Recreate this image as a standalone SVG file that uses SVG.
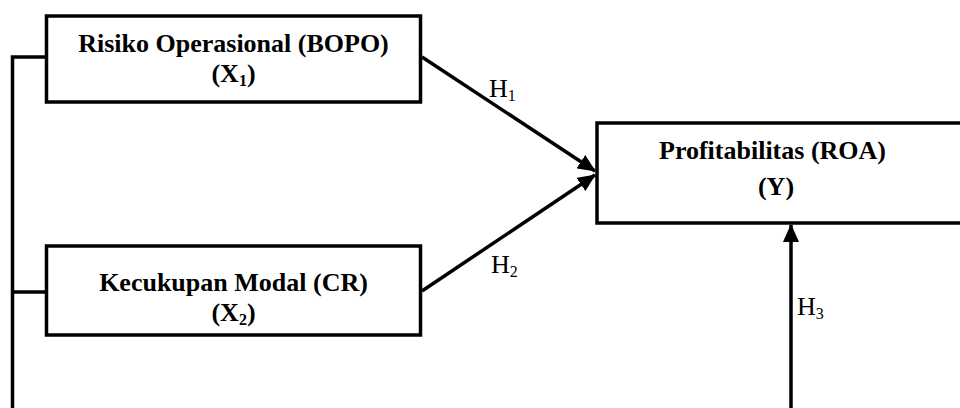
<svg xmlns="http://www.w3.org/2000/svg" width="960" height="408" viewBox="0 0 960 408">
<style>
.box{fill:#fff;stroke:#000;stroke-width:3.5}
.ln{fill:none;stroke:#000;stroke-width:3.5}
.t{font-family:"Liberation Serif","Times New Roman",serif;font-weight:bold;font-size:26px;fill:#000;text-anchor:middle}
.h{font-family:"Liberation Serif","Times New Roman",serif;font-size:26px;fill:#000}
</style>
<defs>
<marker id="ah" markerUnits="userSpaceOnUse" markerWidth="18" markerHeight="16" refX="17" refY="8" orient="auto">
<path d="M0,0 L18,8 L0,16 Z" fill="#000"/>
</marker>
</defs>
<g id="connectors">
<polyline class="ln" points="46,57 12.5,57 12.5,410"/>
<line class="ln" x1="12.5" y1="292" x2="46" y2="292"/>
<line class="ln" x1="422" y1="57" x2="595" y2="171" marker-end="url(#ah)"/>
<line class="ln" x1="422" y1="291" x2="595" y2="175" marker-end="url(#ah)"/>
<line class="ln" x1="791" y1="410" x2="791" y2="225" marker-end="url(#ah)"/>
<text class="h" x="489" y="97">H<tspan font-size="16" dy="4">1</tspan></text>
<text class="h" x="491" y="273">H<tspan font-size="16" dy="4">2</tspan></text>
<text class="h" x="797" y="315">H<tspan font-size="16" dy="4">3</tspan></text>
</g>
<g id="x1">
<rect class="box" x="46.5" y="16" width="374" height="86"/>
<text class="t" x="233.5" y="52">Risiko Operasional (BOPO)</text>
<text class="t" x="233.5" y="82">(X<tspan font-size="16" dy="4">1</tspan><tspan dy="-4">)</tspan></text>
</g>
<g id="x2">
<rect class="box" x="46.5" y="246" width="374" height="89"/>
<text class="t" x="233.5" y="291">Kecukupan Modal (CR)</text>
<text class="t" x="233.5" y="321">(X<tspan font-size="16" dy="4">2</tspan><tspan dy="-4">)</tspan></text>
</g>
<g id="y">
<rect class="box" x="597" y="123" width="370" height="100"/>
<text class="t" x="772.5" y="159">Profitabilitas (ROA)</text>
<text class="t" x="776" y="195">(Y)</text>
</g>
</svg>
